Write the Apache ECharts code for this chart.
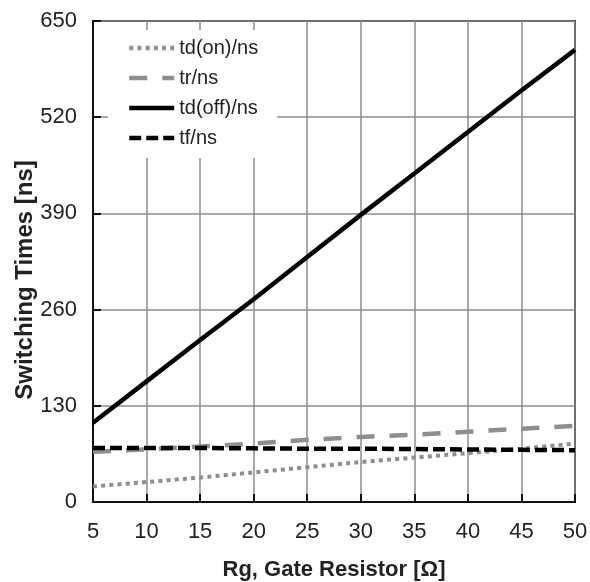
<!DOCTYPE html>
<html>
<head>
<meta charset="utf-8">
<style>
  html, body { margin: 0; padding: 0; background: #fff; }
  #chart { width: 590px; height: 582px; }
</style>
<script src="https://cdn.jsdelivr.net/npm/echarts@6/dist/echarts.min.js"></script>
</head>
<body>
<div id="chart"></div>
<script>
// gate resistor values (Ω)
var rgValues = [5, 10, 15, 20, 25, 30, 35, 40, 45, 50];
// switching times (ns)
var tdOn  = [21, 27, 33, 40, 47, 54, 60, 66, 72, 79];
var tr    = [68, 71, 75, 79, 84, 88, 91, 95, 99, 103];
var tdOff = [107, 163, 219, 274, 331, 388, 444, 500, 556, 611];
var tf    = [73, 73, 73, 72.5, 72, 72, 71.5, 71, 70.5, 70];
var seriesNames = ['td(on)/ns', 'tr/ns', 'td(off)/ns', 'tf/ns'];

function pairs(ys) {
  var out = [];
  for (var i = 0; i < rgValues.length; i++) {
    out.push([rgValues[i], ys[i]]);
  }
  return out;
}

var myChart = echarts.init(document.getElementById('chart'));
var labelFont = 'Liberation Sans, Arial, sans-serif';

var option = {
  backgroundColor: '#fff',
  animation: false,
  grid: {
    left: 93,
    right: 15,
    top: 21,
    bottom: 80,
    outerBoundsMode: 'none',
    containLabel: false,
    show: true,
    borderColor: '#1a1a1a',
    borderWidth: 2
  },
  legend: {
    orient: 'vertical',
    left: 108,
    top: 30,
    padding: [8, 19, 10, 19],
    backgroundColor: '#fff',
    itemWidth: 45,
    itemHeight: 14,
    itemGap: 10,
    itemStyle: { opacity: 0 },   // line only, no marker in the key
    lineStyle: { width: 4.5 },
    textStyle: { fontFamily: labelFont, fontSize: 20, color: '#222' },
    data: seriesNames
  },
  xAxis: {
    type: 'value',
    min: 5,
    max: 50,
    interval: 5,
    name: 'Rg, Gate Resistor [Ω]',
    nameLocation: 'middle',
    nameGap: 57,
    nameMoveOverlap: false,
    nameTextStyle: { fontFamily: labelFont, fontSize: 22, fontWeight: 'bold', color: '#222' },
    axisLine: { lineStyle: { color: '#111', width: 2 } },
    axisTick: { inside: true, length: 8, lineStyle: { color: '#111', width: 2 } },
    axisLabel: { margin: 19, fontFamily: labelFont, fontSize: 22, color: '#222' },
    splitLine: { show: true, lineStyle: { color: '#8c8c8c', width: 1.5 } }
  },
  yAxis: {
    type: 'value',
    min: 0,
    max: 650,
    interval: 130,
    name: 'Switching Times [ns]',
    nameLocation: 'middle',
    nameGap: 56,
    nameMoveOverlap: false,
    nameTextStyle: { fontFamily: labelFont, fontSize: 24, fontWeight: 'bold', color: '#222', padding: [0, 37, 0, 0] },
    axisLine: { show: true, lineStyle: { color: '#111', width: 2 } },
    axisTick: { show: true, inside: true, length: 8, lineStyle: { color: '#111', width: 2 } },
    axisLabel: { margin: 16, fontFamily: labelFont, fontSize: 22, color: '#222' },
    splitLine: { show: true, lineStyle: { color: '#8c8c8c', width: 1.5 } }
  },
  series: [
    {
      name: seriesNames[0],
      type: 'line',
      symbol: 'none',
      data: pairs(tdOn),
      lineStyle: { color: '#8e8e8e', width: 4, type: [4, 4.2], cap: 'butt' },
      itemStyle: { color: '#8e8e8e' }
    },
    {
      name: seriesNames[1],
      type: 'line',
      symbol: 'none',
      data: pairs(tr),
      lineStyle: { color: '#8e8e8e', width: 4.5, type: [18, 15], cap: 'butt' },
      itemStyle: { color: '#8e8e8e' }
    },
    {
      name: seriesNames[2],
      type: 'line',
      symbol: 'none',
      data: pairs(tdOff),
      lineStyle: { color: '#000', width: 4.5 },
      itemStyle: { color: '#000' }
    },
    {
      name: seriesNames[3],
      type: 'line',
      symbol: 'none',
      data: pairs(tf),
      lineStyle: { color: '#000', width: 4.5, type: [12, 5], cap: 'butt' },
      itemStyle: { color: '#000' }
    }
  ]
};

myChart.setOption(option);
</script>
</body>
</html>
